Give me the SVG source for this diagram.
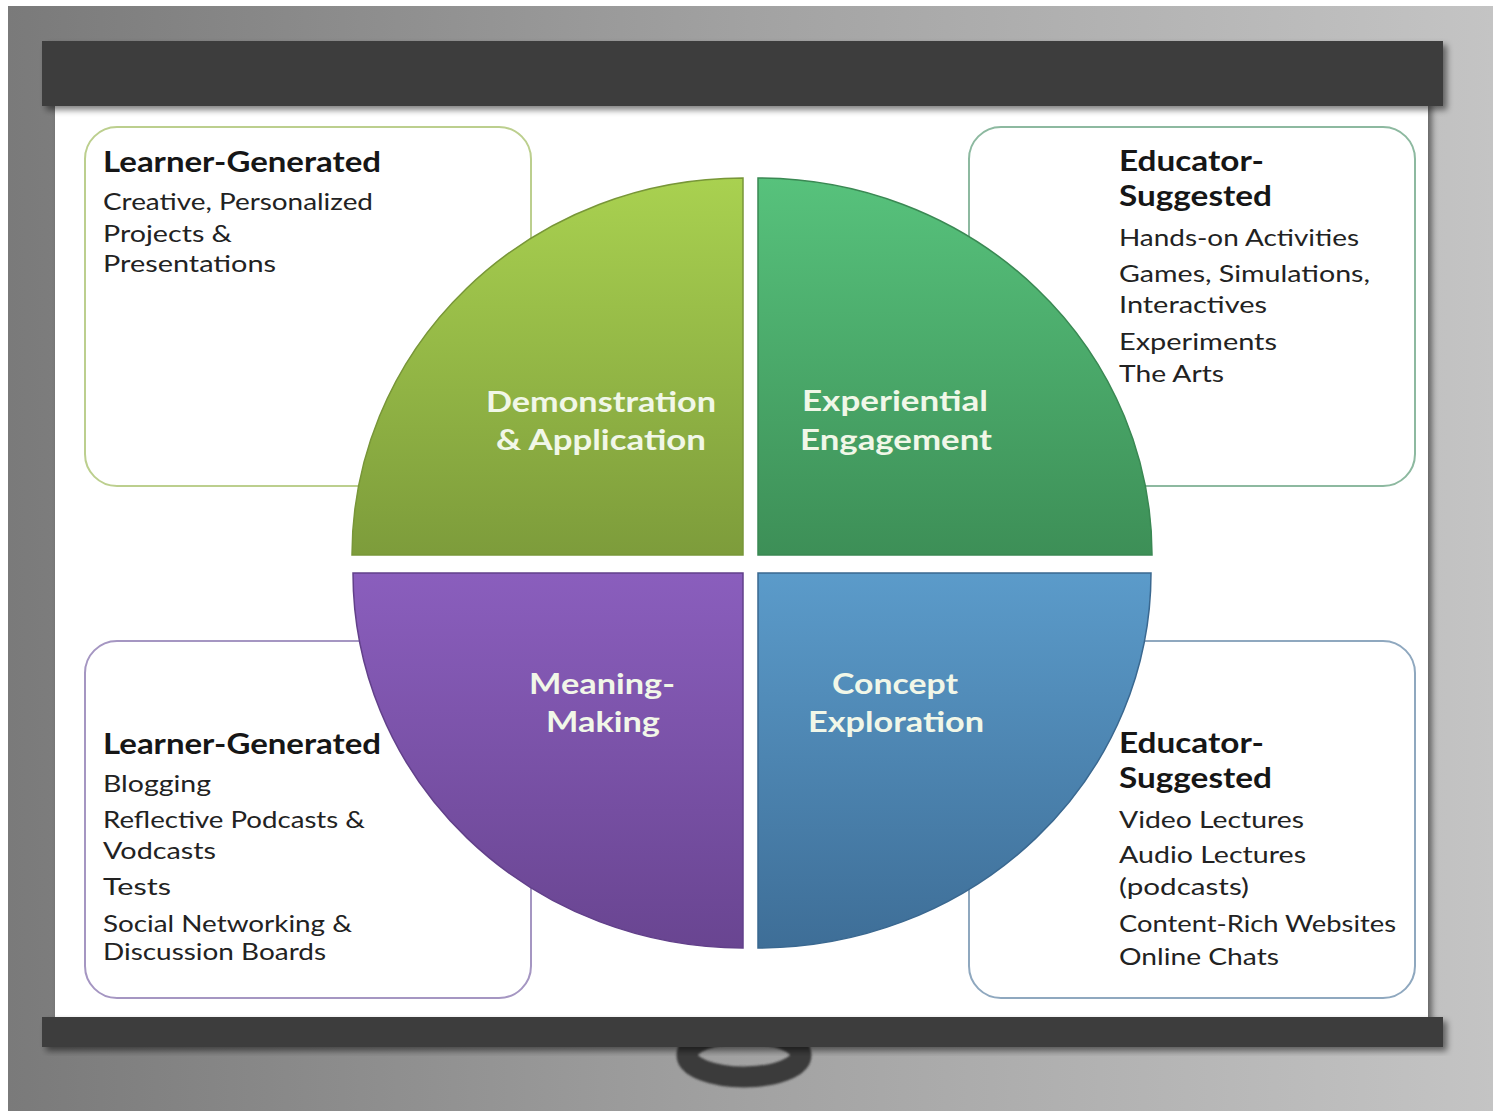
<svg xmlns="http://www.w3.org/2000/svg" width="1493" height="1111" viewBox="0 0 1493 1111">
<defs>
<linearGradient id="bg" x1="0" y1="0" x2="1" y2="0">
<stop offset="0" stop-color="#7a7a7a"/><stop offset="0.5" stop-color="#a2a2a2"/><stop offset="1" stop-color="#c4c4c4"/>
</linearGradient>
<linearGradient id="gGreen" x1="0" y1="0" x2="0" y2="1">
<stop offset="0" stop-color="#a9d150"/><stop offset="1" stop-color="#7d9c3b"/>
</linearGradient>
<linearGradient id="gTeal" x1="0" y1="0" x2="0" y2="1">
<stop offset="0" stop-color="#57c27c"/><stop offset="1" stop-color="#3d8f57"/>
</linearGradient>
<linearGradient id="gPurple" x1="0" y1="0" x2="0" y2="1">
<stop offset="0" stop-color="#8a5ebd"/><stop offset="1" stop-color="#694591"/>
</linearGradient>
<linearGradient id="gBlue" x1="0" y1="0" x2="0" y2="1">
<stop offset="0" stop-color="#5b9bca"/><stop offset="1" stop-color="#3e6e97"/>
</linearGradient>
<filter id="shadow" x="-5%" y="-20%" width="110%" height="150%">
<feGaussianBlur in="SourceAlpha" stdDeviation="3"/>
<feOffset dx="4" dy="4" result="b"/>
<feComponentTransfer><feFuncA type="linear" slope="0.5"/></feComponentTransfer>
<feMerge><feMergeNode/><feMergeNode in="SourceGraphic"/></feMerge>
</filter>
<filter id="soft" filterUnits="userSpaceOnUse" x="650" y="1010" width="190" height="100">
<feGaussianBlur stdDeviation="1.2"/>
</filter>
</defs>
<style>
.box{fill:#ffffff;stroke-width:2}
.h{font-family:Lato,"Noto Sans",sans-serif;font-weight:bold;font-size:28px;fill:#161616}
.t{font-family:Lato,"Noto Sans",sans-serif;font-size:23px;fill:#222222}
.q{font-family:Lato,"Noto Sans",sans-serif;font-weight:bold;font-size:28px;fill:#f1f7e8;text-anchor:middle}
.quad{stroke-width:1.5}
.bar{fill:#3c3c3c}
</style>
<rect x="0" y="0" width="1493" height="1111" fill="#ffffff"/>
<rect x="8" y="6" width="1485" height="1105" fill="url(#bg)"/>
<g id="screen">
<rect x="55" y="100" width="1373" height="920" fill="#ffffff" filter="url(#shadow)"/>
</g>
<g id="handle">
<ellipse cx="744" cy="1055" rx="57" ry="22" fill="none" stroke="#3a3a3a" stroke-width="21" filter="url(#soft)"/>
</g>
<g id="top-bar"><rect class="bar" x="42" y="41" width="1401" height="65" filter="url(#shadow)"/></g>
<g id="bottom-bar"><rect class="bar" x="42" y="1017" width="1401" height="30" filter="url(#shadow)"/></g>
<g id="connectors"></g>
<g id="box-tl">
<rect class="box" x="85" y="127" width="446" height="359" rx="32" stroke="#bccf8e"/>
<text class="h" x="103" y="172" textLength="278" lengthAdjust="spacingAndGlyphs">Learner-Generated</text>
<text class="t" x="103" y="210" textLength="270" lengthAdjust="spacingAndGlyphs">Creative, Personalized</text>
<text class="t" x="103" y="242" textLength="129" lengthAdjust="spacingAndGlyphs">Projects &amp;</text>
<text class="t" x="103" y="272" textLength="173" lengthAdjust="spacingAndGlyphs">Presentations</text>
</g>
<g id="box-tr">
<rect class="box" x="969" y="127" width="446" height="359" rx="32" stroke="#8db9a0"/>
<text class="h" x="1119" y="171" textLength="145" lengthAdjust="spacingAndGlyphs">Educator-</text>
<text class="h" x="1119" y="206" textLength="153" lengthAdjust="spacingAndGlyphs">Suggested</text>
<text class="t" x="1119" y="246" textLength="240" lengthAdjust="spacingAndGlyphs">Hands-on Activities</text>
<text class="t" x="1119" y="282" textLength="251" lengthAdjust="spacingAndGlyphs">Games, Simulations,</text>
<text class="t" x="1119" y="313" textLength="148" lengthAdjust="spacingAndGlyphs">Interactives</text>
<text class="t" x="1119" y="350" textLength="158" lengthAdjust="spacingAndGlyphs">Experiments</text>
<text class="t" x="1119" y="382" textLength="105" lengthAdjust="spacingAndGlyphs">The Arts</text>
</g>
<g id="box-bl">
<rect class="box" x="85" y="641" width="446" height="357" rx="32" stroke="#a596c2"/>
<text class="h" x="103" y="754" textLength="278" lengthAdjust="spacingAndGlyphs">Learner-Generated</text>
<text class="t" x="103" y="792" textLength="108" lengthAdjust="spacingAndGlyphs">Blogging</text>
<text class="t" x="103" y="828" textLength="262" lengthAdjust="spacingAndGlyphs">Reflective Podcasts &amp;</text>
<text class="t" x="103" y="859" textLength="113" lengthAdjust="spacingAndGlyphs">Vodcasts</text>
<text class="t" x="103" y="895" textLength="68" lengthAdjust="spacingAndGlyphs">Tests</text>
<text class="t" x="103" y="932" textLength="249" lengthAdjust="spacingAndGlyphs">Social Networking &amp;</text>
<text class="t" x="103" y="960" textLength="223" lengthAdjust="spacingAndGlyphs">Discussion Boards</text>
</g>
<g id="box-br">
<rect class="box" x="969" y="641" width="446" height="357" rx="32" stroke="#8fa8bf"/>
<text class="h" x="1119" y="753" textLength="145" lengthAdjust="spacingAndGlyphs">Educator-</text>
<text class="h" x="1119" y="788" textLength="153" lengthAdjust="spacingAndGlyphs">Suggested</text>
<text class="t" x="1119" y="828" textLength="185" lengthAdjust="spacingAndGlyphs">Video Lectures</text>
<text class="t" x="1119" y="863" textLength="187" lengthAdjust="spacingAndGlyphs">Audio Lectures</text>
<text class="t" x="1119" y="895" textLength="130" lengthAdjust="spacingAndGlyphs">(podcasts)</text>
<text class="t" x="1119" y="932" textLength="277" lengthAdjust="spacingAndGlyphs">Content-Rich Websites</text>
<text class="t" x="1119" y="965" textLength="160" lengthAdjust="spacingAndGlyphs">Online Chats</text>
</g>
<g id="quad-demonstration">
<path class="quad" d="M743,555 L352,555 A391,377 0 0 1 743,178 Z" fill="url(#gGreen)" stroke="#789638"/>
<text class="q" x="601" y="412" textLength="230" lengthAdjust="spacingAndGlyphs">Demonstration</text>
<text class="q" x="601" y="450" textLength="210" lengthAdjust="spacingAndGlyphs">&amp; Application</text>
</g>
<g id="quad-experiential">
<path class="quad" d="M758,555 L758,178 A394,377 0 0 1 1152,555 Z" fill="url(#gTeal)" stroke="#3a8853"/>
<text class="q" x="895" y="411" textLength="186" lengthAdjust="spacingAndGlyphs">Experiential</text>
<text class="q" x="896" y="450" textLength="192" lengthAdjust="spacingAndGlyphs">Engagement</text>
</g>
<g id="quad-meaning">
<path class="quad" d="M743,573 L743,948 A390,375 0 0 1 353,573 Z" fill="url(#gPurple)" stroke="#62408a"/>
<text class="q" x="602" y="694" textLength="146" lengthAdjust="spacingAndGlyphs">Meaning-</text>
<text class="q" x="603" y="732" textLength="114" lengthAdjust="spacingAndGlyphs">Making</text>
</g>
<g id="quad-concept">
<path class="quad" d="M758,573 L1151,573 A393,375 0 0 1 758,948 Z" fill="url(#gBlue)" stroke="#3a6890"/>
<text class="q" x="895" y="694" textLength="126" lengthAdjust="spacingAndGlyphs">Concept</text>
<text class="q" x="896" y="732" textLength="176" lengthAdjust="spacingAndGlyphs">Exploration</text>
</g>
</svg>
